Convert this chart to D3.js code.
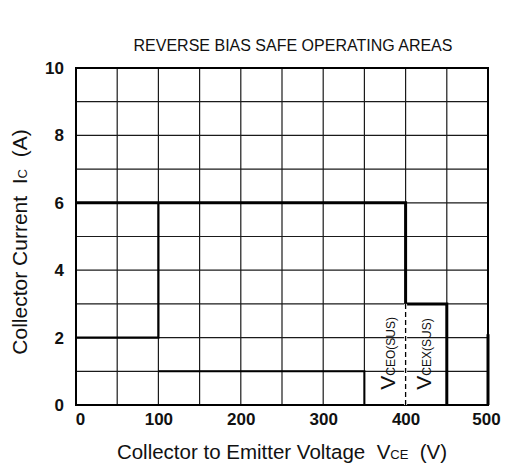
<!DOCTYPE html>
<html><head><meta charset="utf-8">
<script src="https://cdn.jsdelivr.net/npm/d3@7"></script>
<style>body{margin:0;background:#fff} text{white-space:pre}</style>
</head><body>
<svg id="c" width="507" height="468"></svg>
<script>
const xTicks = [0, 100, 200, 300, 400, 500];
const yTicks = [0, 2, 4, 6, 8, 10];
const xGrid = [0, 50, 100, 150, 200, 250, 300, 350, 400, 450, 500];
const yGrid = [0, 1, 2, 3, 4, 5, 6, 7, 8, 9, 10];
// SOA boundary curves (V, A)
const vcexCurve = [[0, 6], [400, 6], [400, 3], [450, 3], [450, 0]];
const lowCurve = [[0, 2], [100, 2], [100, 6]];
const innerCurve = [[100, 1], [350, 1], [350, 0]];
const vceoDashed = [[400, 3], [400, 0]];
const rightEdge = [[500, 2.1], [500, 0]];
const curveLabels = [{v: 385, a: 0.75, t: "V", s: "CEO(SUS)"}, {v: 428, a: 0.75, t: "V", s: "CEX(SUS)"}];

const svg = d3.select("#c");
const x = d3.scaleLinear().domain([0, 500]).range([76, 488]);
const y = d3.scaleLinear().domain([0, 10]).range([405, 68]);
const font = "Arial, 'Liberation Sans', sans-serif";

// grid
svg.append("g").selectAll("line").data(xGrid).join("line")
  .attr("x1", d => x(d)).attr("x2", d => x(d)).attr("y1", y(0)).attr("y2", y(10))
  .attr("stroke", "#1a1a1a").attr("stroke-width", 1.2);
svg.append("g").selectAll("line").data(yGrid).join("line")
  .attr("y1", d => y(d)).attr("y2", d => y(d)).attr("x1", x(0)).attr("x2", x(500))
  .attr("stroke", "#1a1a1a").attr("stroke-width", 1.2);
// frame
svg.append("rect").attr("x", x(0)).attr("y", y(10)).attr("width", x(500) - x(0)).attr("height", y(0) - y(10))
  .attr("fill", "none").attr("stroke", "#000").attr("stroke-width", 2);

const line = d3.line().x(d => x(d[0])).y(d => y(d[1]));
svg.append("path").attr("d", line(vcexCurve)).attr("fill", "none").attr("stroke", "#000").attr("stroke-width", 3);
svg.append("path").attr("d", line(lowCurve)).attr("fill", "none").attr("stroke", "#000").attr("stroke-width", 2.2);
svg.append("path").attr("d", line(innerCurve)).attr("fill", "none").attr("stroke", "#000").attr("stroke-width", 2);
svg.append("path").attr("d", line(rightEdge)).attr("fill", "none").attr("stroke", "#000").attr("stroke-width", 3);
svg.append("path").attr("d", line(vceoDashed)).attr("fill", "none").attr("stroke", "#fff").attr("stroke-width", 3);
svg.append("path").attr("d", line(vceoDashed)).attr("fill", "none").attr("stroke", "#000").attr("stroke-width", 1.3).attr("stroke-dasharray", "5,3");

// axes tick labels
const xAxis = d3.axisBottom(x).tickValues(xTicks).tickSize(0).tickPadding(8);
const gx = svg.append("g").attr("transform", `translate(0,${y(0)})`).call(xAxis);
gx.select(".domain").remove();
gx.selectAll("text").attr("font-family", font).attr("font-size", 17).attr("font-weight", "bold").attr("fill", "#111");
gx.selectAll(".tick").filter(d => d === 0).select("text").attr("dx", 4);
gx.selectAll(".tick").filter(d => d === 500).select("text").attr("dx", -2);

const yAxis = d3.axisLeft(y).tickValues(yTicks).tickSize(0).tickPadding(12);
const gy = svg.append("g").attr("transform", `translate(${x(0)},0)`).call(yAxis);
gy.select(".domain").remove();
gy.selectAll("text").attr("font-family", font).attr("font-size", 17).attr("font-weight", "bold").attr("fill", "#111");

// title
svg.append("text").attr("x", 293).attr("y", 51).attr("text-anchor", "middle")
  .attr("font-family", font).attr("font-size", 16).attr("fill", "#111").text("REVERSE BIAS SAFE OPERATING AREAS");

// x label
const xl = svg.append("text").attr("x", 282).attr("y", 459).attr("text-anchor", "middle")
  .attr("font-family", font).attr("font-size", 20.5).attr("fill", "#111");
xl.append("tspan").text("Collector to Emitter Voltage  V");
xl.append("tspan").attr("font-size", 13).text("CE");
xl.append("tspan").text("  (V)");

// y label
const yl = svg.append("text").attr("transform", "translate(27,242) rotate(-90)").attr("text-anchor", "middle")
  .attr("font-family", font).attr("font-size", 21).attr("fill", "#111");
yl.append("tspan").text("Collector Current  I");
yl.append("tspan").attr("font-size", 13).text("C");
yl.append("tspan").text("  (A)");

// curve labels
curveLabels.forEach(c => {
  const t = svg.append("text").attr("transform", `translate(${x(c.v) + 2},${y(c.a) + 10}) rotate(-90)`)
    .attr("font-family", font).attr("font-size", 21).attr("fill", "#111");
  t.append("tspan").text(c.t);
  t.append("tspan").attr("font-size", 12).text(c.s);
});
</script>
</body></html>
